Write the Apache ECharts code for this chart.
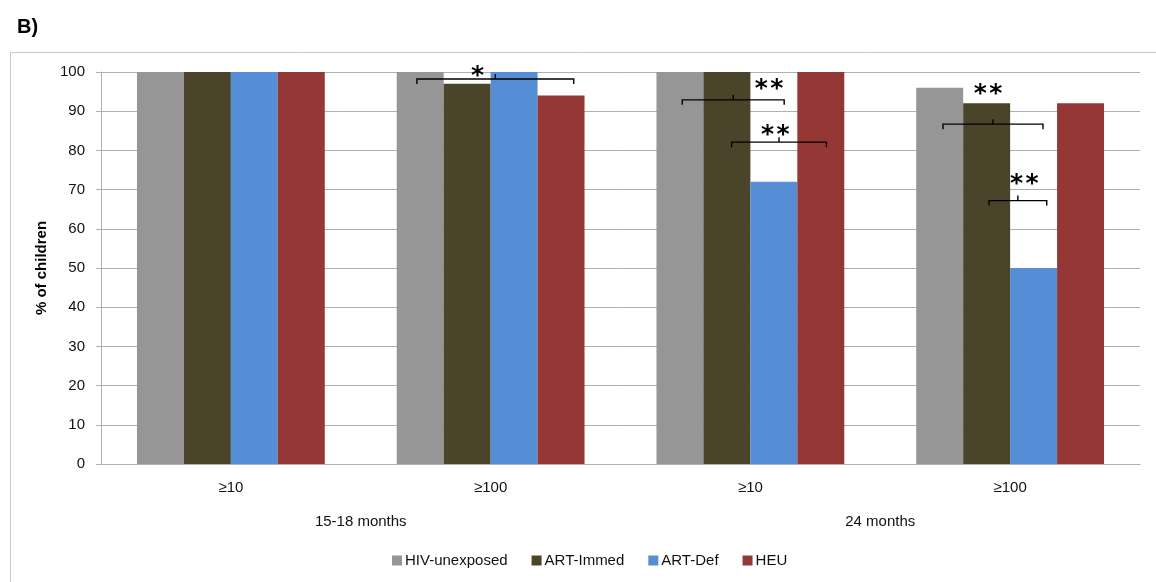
<!DOCTYPE html>
<html>
<head>
<meta charset="utf-8">
<script src="https://cdn.jsdelivr.net/npm/echarts@6/dist/echarts.min.js"></script>
<style>
  html, body { margin: 0; padding: 0; background: #fff; }
  #chart { width: 1156px; height: 582px; }
</style>
</head>
<body>
<div id="chart"></div>
<script>
// Threshold categories, grouped by age at assessment
const thresholds = ['≥10', '≥100', '≥10', '≥100'];
const ages = ['15-18 months', '24 months'];
const yTicks = [0, 10, 20, 30, 40, 50, 60, 70, 80, 90, 100];

// % of children per group
const seriesNames = ['HIV-unexposed', 'ART-Immed', 'ART-Def', 'HEU'];
const hivUnexposed = [100, 100, 100, 96];
const artImmed = [100, 97, 100, 92];
const artDef = [100, 100, 72, 50];
const heu = [100, 94, 100, 92];

// Significance brackets: category, span (in bar widths from group start), level, mark
const bracketCat = [1, 2, 2, 3, 3];
const bracketFrom = [0.43, 0.55, 1.60, 0.57, 1.55];
const bracketTo = [3.77, 2.72, 3.62, 2.70, 2.78];
const bracketLevel = [98.2, 92.9, 82.1, 86.7, 67.2];
const bracketMark = ['*', '**', '**', '**', '**'];
const markPos = [1.72, 2.40, 2.53, 1.53, 2.30];
const markLevel = [100.8, 97.5, 85.8, 96.1, 73.1];

const colors = ['#969696', '#4a452a', '#558ed5', '#953735'];
const FONT = "'Liberation Sans', Arial, sans-serif";
const AXIS_GREY = '#b0b0b0';
const CAT_GAP = 0.277;
const STAR_SIZE = 25;
const STAR_STEP = 15.5;

const chart = echarts.init(document.getElementById('chart'), null, { renderer: 'canvas' });

function bracketRender(params, api) {
  const cat = api.value(0);
  const base = api.coord([cat, api.value(3)]);
  const catW = api.size([1, 0])[0];
  const barW = catW * (1 - CAT_GAP) / 4;
  const left = base[0] - 2 * barW;
  const x0 = left + api.value(1) * barW;
  const x1 = left + api.value(2) * barW;
  const y = base[1];
  const xm = (x0 + x1) / 2;
  const tx = left + api.value(4) * barW;
  // asterisks sit high in the em box, so nudge the text down to centre the glyph
  const ty = api.coord([cat, api.value(5)])[1] + STAR_SIZE * 0.3;
  const lineStyle = { stroke: '#000', lineWidth: 1.4, fill: null };
  const mark = bracketMark[params.dataIndex];
  const children = [
    { type: 'polyline', shape: { points: [[x0, y + 5], [x0, y], [x1, y], [x1, y + 5]] }, style: lineStyle },
    { type: 'line', shape: { x1: xm, y1: y, x2: xm, y2: y - 5 }, style: lineStyle }
  ];
  const n = mark.length;
  for (let k = 0; k < n; k++) {
    children.push({
      type: 'text',
      style: {
        text: mark[k],
        x: tx + (k - (n - 1) / 2) * STAR_STEP,
        y: ty,
        align: 'center', verticalAlign: 'middle',
        fontFamily: 'DejaVu Sans', fontWeight: 'bold', fontSize: STAR_SIZE, fill: '#000'
      }
    });
  }
  return { type: 'group', children };
}

const bracketData = bracketCat.map((c, i) => [c, bracketFrom[i], bracketTo[i], bracketLevel[i], markPos[i], markLevel[i]]);
const values = [hivUnexposed, artImmed, artDef, heu];

const option = {
  animation: false,
  textStyle: { fontFamily: FONT },
  grid: { left: 101, right: 16, top: 72, bottom: 118 },
  graphic: [
    { type: 'rect', shape: { x: 10.5, y: 52.5, width: 1200, height: 600 }, style: { fill: null, stroke: '#c8c8c8', lineWidth: 1 }, z: -1 },
    { type: 'text', left: 17, top: 17, style: { text: 'B)', fontFamily: FONT, fontWeight: 'bold', fontSize: 20, fill: '#000' } }
  ],
  legend: {
    data: seriesNames,
    top: 553,
    left: 392,
    padding: 0,
    icon: 'rect',
    itemWidth: 10,
    itemHeight: 10,
    itemGap: 24,
    textStyle: { fontFamily: FONT, fontSize: 15, color: '#111', padding: [0, 0, 0, -2] }
  },
  xAxis: [
    {
      type: 'category',
      data: thresholds,
      position: 'bottom',
      axisLine: { lineStyle: { color: AXIS_GREY, width: 1 } },
      axisTick: { length: 35, lineStyle: { color: AXIS_GREY } },
      axisLabel: { margin: 16, fontFamily: FONT, fontSize: 15, color: '#111' }
    },
    {
      type: 'category',
      data: ages,
      position: 'bottom',
      axisLine: { show: false },
      axisTick: { length: 68, lineStyle: { color: AXIS_GREY } },
      axisLabel: { margin: 50, fontFamily: FONT, fontSize: 15, color: '#111' }
    }
  ],
  yAxis: {
    type: 'value',
    min: yTicks[0],
    max: yTicks[yTicks.length - 1],
    interval: 10,
    name: '% of children',
    nameLocation: 'middle',
    nameGap: 26,
    nameTextStyle: { fontFamily: FONT, fontWeight: 'bold', fontSize: 15, color: '#000' },
    axisLine: { show: true, lineStyle: { color: AXIS_GREY } },
    axisTick: { show: true, length: 5, lineStyle: { color: AXIS_GREY } },
    axisLabel: { margin: 16, fontFamily: FONT, fontSize: 15, color: '#111' },
    splitLine: { lineStyle: { color: AXIS_GREY } }
  },
  series: seriesNames.map((name, i) => ({
    name,
    type: 'bar',
    xAxisIndex: 0,
    data: values[i],
    barGap: '0%',
    barCategoryGap: (CAT_GAP * 100) + '%',
    itemStyle: { color: colors[i] }
  })).concat([{
    type: 'custom',
    xAxisIndex: 0,
    renderItem: bracketRender,
    data: bracketData,
    clip: false,
    z: 10,
    silent: true
  }])
};

chart.setOption(option);
</script>
</body>
</html>
